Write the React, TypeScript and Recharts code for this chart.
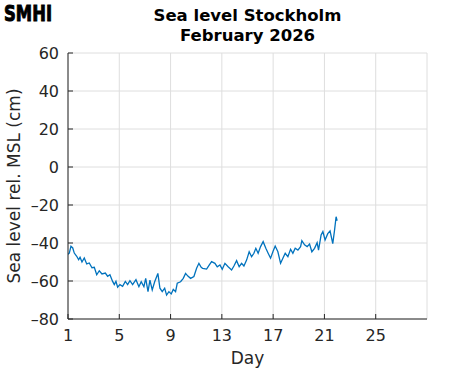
import React from 'react';
import { LineChart, Line, XAxis, YAxis, CartesianGrid, Label } from 'recharts';

const days: number[] = [
  1.0, 1.10, 1.23, 1.37, 1.49, 1.68, 1.83, 1.94, 2.09, 2.27, 2.46, 2.66, 2.87, 3.05, 3.24, 3.44, 3.65, 3.91, 4.09, 4.27,
  4.48, 4.61, 4.74, 4.87, 5.05, 5.26, 5.47, 5.65, 5.83, 6.04, 6.30,
  6.53, 6.71, 6.92, 7.06, 7.24, 7.39, 7.57, 7.76, 8.01, 8.17, 8.35, 8.54, 8.69, 8.87, 9.05, 9.21, 9.39, 9.52, 9.78,
  9.99, 10.17, 10.35, 10.56, 10.82, 11.03, 11.21, 11.39,
  11.50, 11.81, 12.01, 12.20, 12.46, 12.64, 12.85, 13.03, 13.24, 13.49, 13.76, 13.94, 14.15, 14.35, 14.54, 14.72, 14.93,
  15.13, 15.32, 15.50, 15.65, 15.83, 16.02, 16.22, 16.43, 16.61, 16.80,
  16.98, 17.16, 17.37, 17.58, 17.76, 17.94, 18.15, 18.36, 18.54, 18.72, 18.93, 19.14, 19.24, 19.45, 19.65, 19.84, 20.02,
  20.23, 20.43, 20.54, 20.74, 20.88, 21.05, 21.26, 21.44, 21.65, 21.79, 21.91, 21.99,
];

const seaLevel: number[] = [
  -46, -45.3, -41.7, -42.6, -45.3, -47, -48.8, -47.5, -50, -47.9, -51, -50.5, -53, -52.8, -56.7, -54.6, -56.3, -55.8, -57.5, -56.7,
  -60.2, -61.9, -60.2, -63.3, -61.9, -62.8, -60.2, -61.9, -59.8, -61.9, -59.3,
  -63, -60.4, -63, -58.6, -65.6, -59.5, -64.7, -60.4, -56, -63.8, -65.6, -63.8, -67.4, -65.6, -66.8, -64.4, -65.6, -61.2, -60.4,
  -58.6, -56, -57.4, -58.6, -57.6, -53.3, -50.7, -52.8,
  -53.3, -53.7, -51.6, -49.8, -50.7, -52.5, -51.6, -53.8, -50.7, -52.5, -54.2, -52.1, -49.3, -52.5, -50.7, -52.1, -49,
  -44.6, -47.2, -45.4, -42.8, -45.4, -41.9, -39.3, -42.8, -45.4, -48,
  -44.6, -41.6, -44.6, -50.7, -48, -45.4, -47.2, -43.3, -45.4, -42.8, -43.7, -41.9, -38.8, -41, -41.9, -40.5, -44.6,
  -42.8, -39.8, -43.7, -35.8, -34, -38.4, -35.1, -33.7, -40.3, -33.2, -26.2, -28.3,
];

const xTicks: number[] = [1, 5, 9, 13, 17, 21, 25];
const yTicks: number[] = [-80, -60, -40, -20, 0, 20, 40, 60];
const xDomain: [number, number] = [1, 29];
const yDomain: [number, number] = [-80, 60];

const titleLines: string[] = ['Sea level Stockholm', 'February 2026'];
const xLabel = 'Day';
const yLabel = 'Sea level rel. MSL (cm)';
const logoText = 'SMHI';

const data = days.map((d, i) => ({ day: d, level: seaLevel[i] }));

const FONT = '"DejaVu Sans", sans-serif';
const AXIS = '#262626';
const tickStyle = { fontFamily: FONT, fontSize: 16, fill: AXIS };
const fmtY = (v: number) => String(v).replace('-', '\u2013');

export default function App() {
  return (
    <div style={{ position: 'absolute', left: 0, top: 0, width: 471, height: 371, background: '#fff' }}>
      <LineChart width={471} height={371} data={data} margin={{ top: 53, right: 44, bottom: 0, left: 0 }}>
        <CartesianGrid stroke="#dedede" strokeWidth={1} />
        <XAxis
          dataKey="day"
          type="number"
          domain={xDomain}
          ticks={xTicks}
          interval={0}
          height={52}
          tickSize={-5}
          tickMargin={16}
          tick={tickStyle}
          stroke={AXIS}
          allowDataOverflow
        >
          <Label value={xLabel} position="insideBottom" offset={7} style={{ fontFamily: FONT, fontSize: 17, fill: AXIS }} />
        </XAxis>
        <XAxis
          xAxisId="top"
          dataKey="day"
          type="number"
          orientation="top"
          domain={xDomain}
          ticks={xTicks}
          interval={0}
          height={0}
          tickSize={-5}
          tickFormatter={() => ''}
          stroke={AXIS}
          allowDataOverflow
        />
        <YAxis
          type="number"
          domain={yDomain}
          ticks={yTicks}
          interval={0}
          width={68}
          tickSize={-5}
          tickMargin={14}
          tick={tickStyle}
          tickFormatter={fmtY}
          stroke={AXIS}
          allowDataOverflow
        >
          <Label
            content={() => (
              <text
                x={20}
                y={186}
                transform="rotate(-90, 20, 186)"
                textAnchor="middle"
                style={{ fontFamily: FONT, fontSize: 17, fill: AXIS }}
              >
                {yLabel}
              </text>
            )}
          />
        </YAxis>
        <YAxis
          yAxisId="right"
          orientation="right"
          type="number"
          domain={yDomain}
          ticks={yTicks}
          interval={0}
          width={0}
          tickSize={-5}
          tickFormatter={() => ''}
          stroke={AXIS}
          allowDataOverflow
        />
        <Line
          dataKey="level"
          type="linear"
          stroke="#0072BD"
          strokeWidth={1.3}
          dot={false}
          isAnimationActive={false}
        />
      </LineChart>
      <svg width={471} height={371} style={{ position: 'absolute', left: 0, top: 0, pointerEvents: 'none' }}>
        <text
          x={4}
          y={21}
          textLength={48}
          lengthAdjust="spacingAndGlyphs"
          stroke="#000"
          strokeWidth={1}
          style={{ fontFamily: FONT, fontSize: 22, fontWeight: 900, fill: '#000' }}
        >
          {logoText}
        </text>
        <text x={247.5} y={20.5} textAnchor="middle" style={{ fontFamily: FONT, fontSize: 16.5, fontWeight: 'bold', fill: '#000' }}>
          {titleLines[0]}
        </text>
        <text x={247.5} y={41} textAnchor="middle" style={{ fontFamily: FONT, fontSize: 16.5, fontWeight: 'bold', fill: '#000' }}>
          {titleLines[1]}
        </text>
      </svg>
    </div>
  );
}
